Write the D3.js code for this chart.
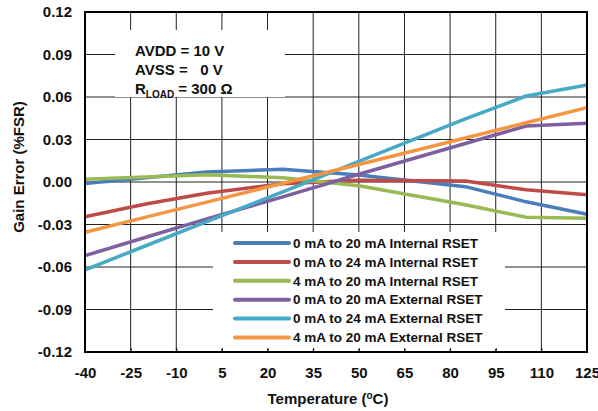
<!DOCTYPE html>
<meta charset="utf-8">
<body style="margin:0;background:#fff">
<script src="https://cdn.jsdelivr.net/npm/d3@7/dist/d3.min.js"></script>
<script>
	//data
	var temps = [-40, -20, 0, 25, 50, 85, 105, 125];
	var names = ["0 mA to 20 mA Internal RSET", "0 mA to 24 mA Internal RSET", "4 mA to 20 mA Internal RSET",
		"0 mA to 20 mA External RSET", "0 mA to 24 mA External RSET", "4 mA to 20 mA External RSET"];
	var int020 = [-0.001, 0.003, 0.007, 0.009, 0.005, -0.0033, -0.014, -0.0228];
	var int024 = [-0.0245, -0.0155, -0.008, -0.0012, 0.0012, 0.0007, -0.0055, -0.009];
	var int420 = [0.002, 0.0036, 0.0052, 0.003, -0.0026, -0.016, -0.0249, -0.0256];
	var ext020 = [-0.052, -0.039, -0.026, -0.0105, 0.0055, 0.0272, 0.0395, 0.0414];
	var ext024 = [-0.062, -0.045, -0.028, -0.007, 0.0145, 0.0445, 0.0607, 0.0685];
	var ext420 = [-0.0355, -0.0248, -0.0142, -0.0009, 0.0124, 0.0311, 0.0418, 0.0525];
	var xTicks = [-40, -25, -10, 5, 20, 35, 50, 65, 80, 95, 110, 125];
	var yTicks = [-0.12, -0.09, -0.06, -0.03, 0, 0.03, 0.06, 0.09, 0.12];
	var colors = ["#4a7ebb", "#be4b48", "#98b954", "#7d60a0", "#46aac5", "#f39644"];
	var series = [int020, int024, int420, ext020, ext024, ext420];

	var font = "Arial, 'Liberation Sans', sans-serif";
	var svg = d3.select("body").append("svg")
		.attr("width", 598)
		.attr("height", 411)
		.style("font-family", font)
		.style("font-weight", "bold");

	//scales
	var x = d3.scaleLinear().domain([-40, 125]).range([85, 587]);
	var y = d3.scaleLinear().domain([-0.12, 0.12]).range([352, 12]);

	//grid
	svg.append("g").selectAll("line")
		.data(xTicks).enter().append("line")
		.attr("x1", function(d){ return x(d); })
		.attr("x2", function(d){ return x(d); })
		.attr("y1", y(-0.12)).attr("y2", y(0.12))
		.attr("stroke", "#222");
	svg.append("g").selectAll("line")
		.data(yTicks).enter().append("line")
		.attr("y1", function(d){ return y(d); })
		.attr("y2", function(d){ return y(d); })
		.attr("x1", x(-40)).attr("x2", x(125))
		.attr("stroke", "#222");

	//series lines
	var line = d3.line()
		.x(function(d, i){ return x(temps[i]); })
		.y(function(d){ return y(d); });
	svg.append("g").selectAll("path")
		.data(series).enter().append("path")
		.attr("d", line)
		.attr("fill", "none")
		.attr("stroke", function(d, i){ return colors[i]; })
		.attr("stroke-width", 3.5)
		.attr("stroke-linejoin", "round");

	//legend
	var legend = svg.append("g");
	legend.append("rect")
		.attr("x", 213).attr("y", 232)
		.attr("width", 292).attr("height", 117)
		.attr("fill", "#fff");
	var items = legend.selectAll("g.item")
		.data(names).enter().append("g")
		.attr("class", "item")
		.attr("transform", function(d, i){ return "translate(235," + (243 + i * 18.9) + ")"; });
	items.append("line")
		.attr("x1", 0).attr("x2", 54)
		.attr("stroke", function(d, i){ return colors[i]; })
		.attr("stroke-width", 4)
		.attr("stroke-linecap", "round");
	items.append("text")
		.attr("x", 58).attr("dy", "0.35em")
		.attr("font-size", "13.5px")
		.attr("fill", "#111")
		.text(function(d){ return d; });

	//conditions box
	svg.append("rect")
		.attr("x", 115).attr("y", 30)
		.attr("width", 170).attr("height", 67)
		.attr("fill", "#fff");
	var cond = svg.append("g")
		.attr("font-size", "15px")
		.attr("fill", "#111");
	cond.append("text").attr("x", 135).attr("y", 55.5).text("AVDD = 10 V");
	cond.append("text").attr("x", 135).attr("y", 74.5).text("AVSS = \u00A0\u00A00 V");
	var rl = cond.append("text").attr("x", 135).attr("y", 93.5);
	rl.append("tspan").text("R");
	rl.append("tspan").attr("font-size", "10px").attr("dy", 4).text("LOAD");
	rl.append("tspan").attr("dy", -4).text(" = 300 \u03A9");

	//axes
	var xAxis = svg.append("g")
		.attr("transform", "translate(0,352)")
		.call(d3.axisBottom(x).tickValues(xTicks).tickSize(-4).tickPadding(15)
			.tickFormat(function(d){ return String(d); }));
	var yAxis = svg.append("g")
		.attr("transform", "translate(85,0)")
		.call(d3.axisLeft(y).tickValues(yTicks).tickSize(0).tickPadding(13)
			.tickFormat(function(d){ return d.toFixed(2); }));
	svg.selectAll(".domain").remove();
	svg.selectAll(".tick text")
		.attr("font-family", font)
		.attr("font-size", "15px")
		.attr("font-weight", "bold")
		.attr("fill", "#111");
	svg.selectAll(".tick line").attr("stroke", "#111");

	//plot border
	svg.append("rect")
		.attr("x", 85).attr("y", 12)
		.attr("width", 502).attr("height", 340)
		.attr("fill", "none")
		.attr("stroke", "#000")
		.attr("stroke-width", 2);

	//axis titles
	var xt = svg.append("text")
		.attr("x", 328).attr("y", 404)
		.attr("text-anchor", "middle")
		.attr("font-size", "15px")
		.attr("fill", "#111");
	xt.append("tspan").text("Temperature (");
	xt.append("tspan").attr("font-size", "10px").attr("dy", -5).text("o");
	xt.append("tspan").attr("dy", 5).text("C)");
	svg.append("text")
		.attr("transform", "translate(24,167) rotate(-90)")
		.attr("text-anchor", "middle")
		.attr("font-size", "15px")
		.attr("fill", "#111")
		.text("Gain Error (%FSR)");
</script>
</body>
